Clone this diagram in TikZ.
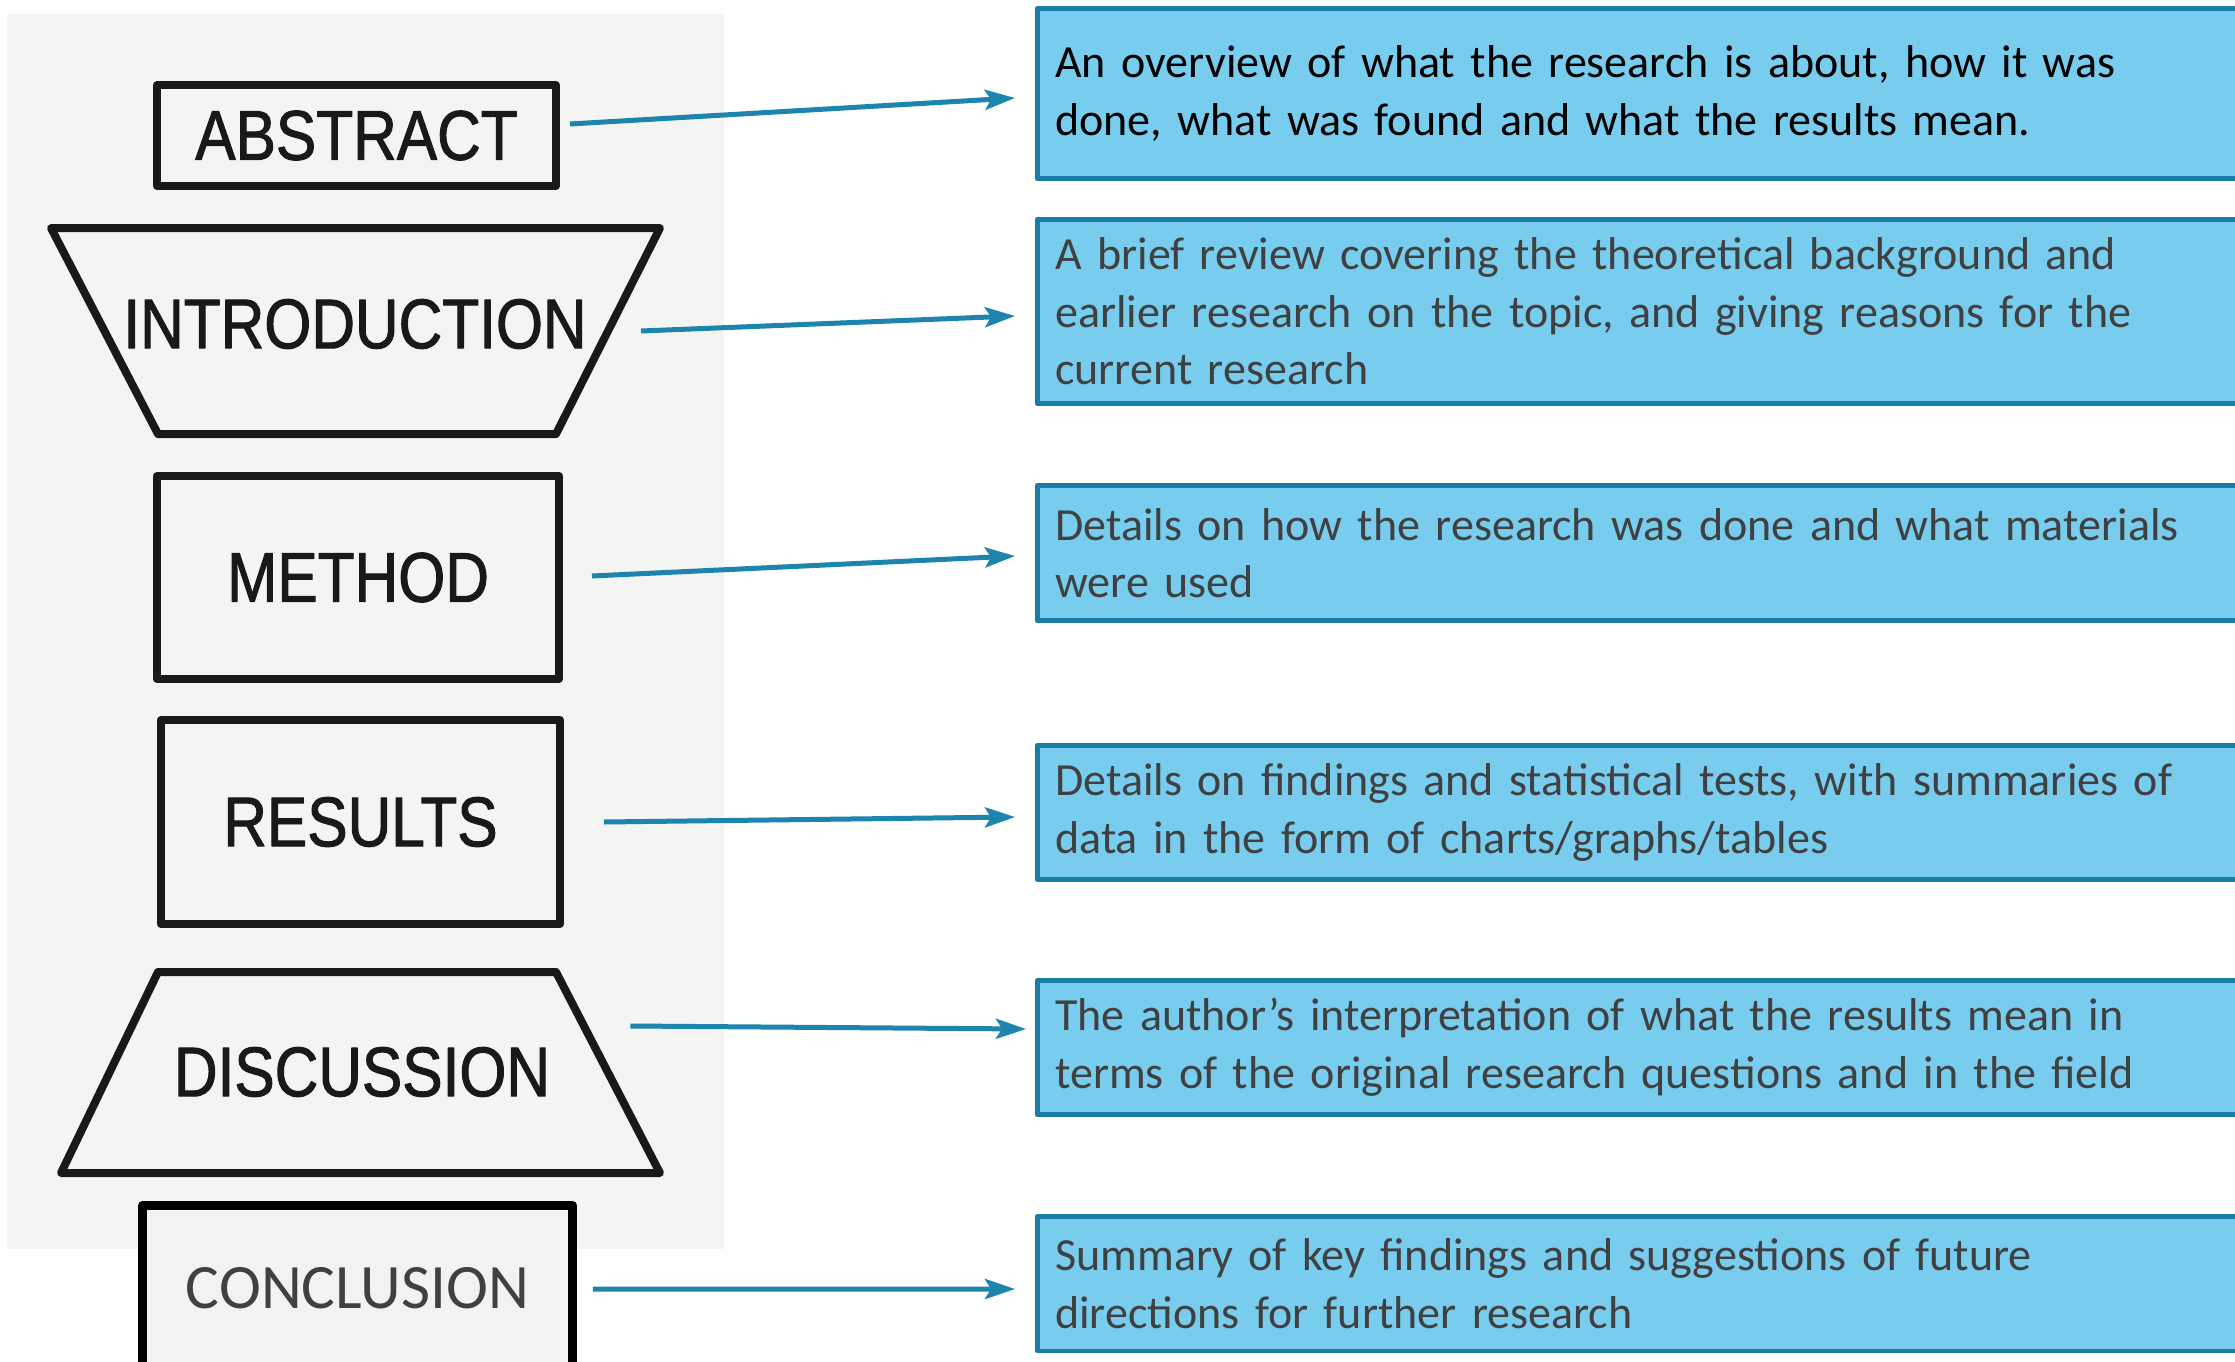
\documentclass[tikz,border=0pt]{standalone}
\usepackage{fontspec}
\setmainfont{Carlito}
\newfontfamily\scanfont[FakeStretch=0.86,FakeBold=1.4]{Liberation Sans}
\usetikzlibrary{arrows.meta,calc}
\definecolor{scanbg}{HTML}{F4F5F2}
\definecolor{notefill}{HTML}{78CCEE}
\definecolor{noteline}{HTML}{1A7DA6}
\definecolor{linkblue}{HTML}{1C84AD}
\definecolor{notetext}{HTML}{404040}
\definecolor{concfill}{HTML}{F2F2F2}
\begin{document}
\begin{tikzpicture}[x=0.02cm,y=-0.02cm,line join=round,
    edge/.style={draw=black!90,line width=0.16cm},
    part/.style={edge,inner sep=0pt},
    word/.style={text=black!90,inner sep=0pt,font=\scanfont\fontsize{40}{40}\selectfont},
    note/.style={draw=noteline,fill=notefill,line width=0.09cm,text=notetext,
      anchor=west,align=left,text width=23.74cm,inner xsep=0.36cm,
      font=\fontsize{26.2}{32.8}\selectfont},
    link/.style={draw=linkblue,line width=0.1cm,-{Stealth[length=0.6cm,width=0.4cm,inset=0.12cm]}}]
  \useasboundingbox (0,0) rectangle (2235,1362);
  \clip (0,0) rectangle (2235,1362);
  \fill[white] (0,0) rectangle (2235,1362);
  \fill[scanbg] (7,14) rectangle (724,1249);

  % the printed outline
  \node[part,word,minimum width=7.98cm,minimum height=2.02cm] (abs) at (356.5,135.5) {ABSTRACT};
  \draw[edge] (51,228) -- (660,228) -- (556,434) -- (158,434) -- cycle;
  \node[word] (intro) at (355,324) {INTRODUCTION};
  \node[part,word,minimum width=8.04cm,minimum height=4.06cm] (meth) at (358,577.5) {METHOD};
  \node[part,word,minimum width=7.98cm,minimum height=4.08cm] (res) at (360.5,822) {RESULTS};
  \draw[edge] (158,972) -- (556,972) -- (660,1173) -- (61,1173) -- cycle;
  \node[word] (disc) at (362,1072) {DISCUSSION};
  \node[draw=black,line width=0.17cm,fill=concfill,text=notetext,minimum width=8.61cm,minimum height=3.3cm,
    font=\fontsize{36}{36}\selectfont] (concl) at (357.5,1288) {CONCLUSION};

  % what each part holds
  \node[note,text=black,minimum height=3.41cm] (ovr) at (1035,93.5)
    {An overview of what the research is about, how it was\\done, what was found and what the results mean.};
  \node[note,minimum height=3.69cm] (bkg) at (1035,311.5)
    {A brief review covering the theoretical background and\\earlier research on the topic, and giving reasons for the\\current research};
  \node[note,minimum height=2.71cm] (how) at (1035,553)
    {Details on how the research was done and what materials\\were used};
  \node[note,minimum height=2.69cm] (fnd) at (1035,812.5)
    {Details on findings and statistical tests, with summaries of\\data in the form of charts/graphs/tables};
  \node[note,minimum height=2.69cm] (intp) at (1035,1047.5)
    {The author’s interpretation of what the results mean in\\terms of the original research questions and in the field};
  \node[note,minimum height=2.69cm] (sum) at (1035,1283.5)
    {Summary of key findings and suggestions of future\\directions for further research};

  \draw[link] ($(abs.east)+(10,-11.5)$) -- ($(ovr.west)+(-20,4.5)$);
  \draw[link] ($(intro.east)+(54,7)$) -- ($(bkg.west)+(-20,4.5)$);
  \draw[link] ($(meth.east)+(29,-1.5)$) -- ($(how.west)+(-20,3)$);
  \draw[link] ($(res.east)+(40,0)$) -- ($(fnd.west)+(-20,4.5)$);
  \draw[link] ($(disc.east)+(80,-46)$) -- ($(intp.west)+(-9,-18.5)$);
  \draw[link] ($(concl.east)+(16,1)$) -- ($(sum.west)+(-20,5.5)$);
\end{tikzpicture}
\end{document}
